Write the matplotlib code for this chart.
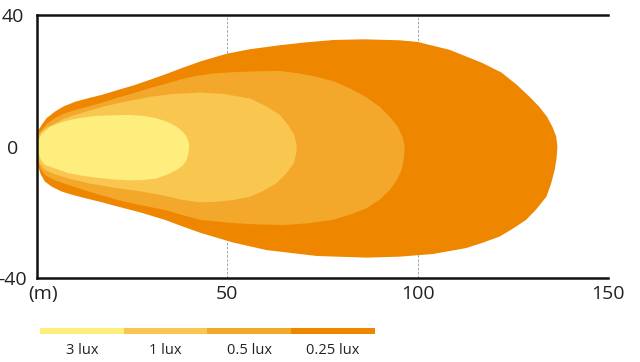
import matplotlib
matplotlib.use("Agg")
import matplotlib.pyplot as plt

plt.rcParams["font.family"] = ["Open Sans", "DejaVu Sans"]

# isolux outlines (distance m, lateral m), traced clockwise from the nose
lux_labels = ["0.25 lux", "0.5 lux", "1 lux", "3 lux"]
lux_colors = ["#ee8600", "#f3a72b", "#f9c74f", "#fdee7e"]

x_025 = [0, 0.4, 1.2, 2.5, 4.7, 7, 10, 13.5, 17, 21, 25.7, 29.7, 33.6, 38.4,
         43, 49.8, 56, 63.8, 70, 78, 86, 95.3, 100, 108.4, 117, 122, 126,
         129.5, 132, 134, 135.4, 136.4, 136.7,
         136.5, 136, 135, 133.8, 131, 128.5, 125, 121.5, 117, 112.7, 104, 95.3,
         86.6, 73.5, 60.3, 51.5, 42.8, 37.5, 33.6, 27, 21.3, 16.5, 12.6, 9,
         6.5, 4, 2.1, 1, 0.3, 0]
y_025 = [3, 5, 6.5, 8.6, 10.6, 12.2, 13.6, 14.7, 15.7, 17.1, 18.7, 20.3, 21.9,
         24, 25.9, 28.2, 29.6, 30.8, 31.6, 32.4, 32.6, 32.3, 31.8, 29.4, 25.4,
         22.5, 18.8, 15, 12, 9, 6, 3, 0,
         -3.5, -7.1, -11.5, -15.3, -19.3, -22.3, -25, -27.4, -29.3, -30.9,
         -32.7, -33.5, -33.8, -33.3, -31.5, -29.2, -26.2, -24, -22.3, -20,
         -18.3, -16.8, -15.7, -14.6, -13.7, -12.3, -10.7, -8.5, -6, -3.5]

x_05 = [0, 0.4, 1.2, 2.5, 4.7, 7, 10, 13.5, 17, 21, 25.7, 29.7, 33.6, 37.5,
        41, 46, 51.5, 58, 63.8, 69, 73.5, 78, 82.2, 86.5, 90, 92.7, 94.8, 96,
        96.6,
        96.4, 95.8, 94.5, 92.7, 90, 86.6, 82, 77.7, 71, 64.6, 58, 51.5, 42.8,
        38, 33.6, 27, 21.3, 15, 8.2, 4.5, 2.1, 0.8, 0.2, 0]
y_05 = [2.5, 4, 5, 6.8, 8.6, 10, 11.1, 12.2, 13.3, 14.8, 16.3, 17.8, 19,
        20.3, 21.3, 22.2, 22.6, 22.9, 23, 22.2, 21.2, 19.8, 17.7, 15, 12.1, 9,
        6, 3, 0,
        -3.5, -7.1, -10.2, -13.2, -16.2, -18.8, -20.8, -22.3, -23.4, -23.9,
        -23.7, -23.3, -22.3, -20.8, -19.3, -17.8, -16.3, -14.2, -11.7, -10.2,
        -8.7, -6.5, -4.5, -2.5]

x_1 = [0, 0.4, 1.2, 2.5, 4.7, 7, 10, 14, 18, 23, 29.7, 35, 42.8, 49, 56,
       60.3, 63.8, 66, 67.6, 68.2,
       68.2, 67.5, 65.5, 63, 59.5, 55.9, 51.5, 47.2, 42.8, 38, 33.6, 27, 21.3,
       14, 8.2, 4.5, 2.1, 0.8, 0.2, 0]
y_1 = [2, 3.2, 4.5, 5.8, 7, 8.4, 9.6, 11, 12.3, 13.6, 15.1, 15.9, 16.4, 16,
       14.6, 12.2, 9.6, 6.5, 3.5, 0.5,
       -1.5, -5, -8.2, -11.1, -13.5, -15.3, -16.3, -16.8, -17, -16.2, -15,
       -13.6, -12.7, -11.3, -9.7, -8.4, -7.1, -5.3, -3.5, -2]

x_3 = [0, 0.3, 1.2, 3.4, 6, 8.7, 12, 15.7, 20, 24.4, 28, 31.4, 34.5, 36.7,
       38.3, 39.3, 39.8, 40,
       39.8, 39.3, 38.3, 36.7, 34.5, 31.4, 28, 24.4, 20, 15.7, 12, 8.2, 6,
       2.1, 1.2, 0.3, 0]
y_3 = [0.5, 1.8, 3.8, 6, 7.2, 8.1, 8.8, 9.3, 9.5, 9.6, 9.3, 8.6, 7.4, 6,
       4.5, 3, 1.5, 0,
       -2, -4.1, -5.8, -7.1, -8.4, -9.7, -10.2, -10.3, -10, -9.5, -8.9,
       -8.1, -7.2, -5.6, -4.4, -2.1, -1]

outlines = [(x_025, y_025), (x_05, y_05), (x_1, y_1), (x_3, y_3)]

x_ticks = [50, 100, 150]
y_ticks = [-40, 0, 40]
legend_order = ["3 lux", "1 lux", "0.5 lux", "0.25 lux"]
legend_colors = ["#fdee7e", "#f9c74f", "#f3a72b", "#ee8600"]

fig = plt.figure(figsize=(6.4, 3.62), dpi=100)
ax = fig.add_axes([0.0578, 0.232, 0.8922, 0.7266])

for (xs, ys), color in zip(outlines, lux_colors):
    ax.fill(xs, ys, color=color, lw=0, zorder=2)

ax.set_xlim(0, 150)
ax.set_ylim(-40, 40)
ax.set_xticks(x_ticks)
ax.set_yticks(y_ticks)
ax.set_yticklabels(["-40", "0", "40"])
ax.tick_params(length=0, labelsize=14, colors="#222222")
ax.tick_params(axis="x", pad=5)
ax.tick_params(axis="y", pad=17.5)
for lab in ax.get_yticklabels():
    lab.set_horizontalalignment("center")
ax.xaxis.grid(True, ls=(0, (3, 2)), color="#999999", lw=0.6, zorder=1)

for side in ["left", "top", "bottom"]:
    ax.spines[side].set_linewidth(1.8)
    ax.spines[side].set_color("#111111")
    ax.spines[side].set_zorder(5)
ax.spines["right"].set_visible(False)

ax.text(-0.016, -0.027, "(m)", transform=ax.transAxes, ha="left", va="top",
        fontsize=14, color="#222222")

# legend strip
lax = fig.add_axes([0.0625, 0.0773, 0.523, 0.0166])
for i, (label, color) in enumerate(zip(legend_order, legend_colors)):
    lax.barh(0, 1, left=i, height=1, color=color, lw=0)
    fig.text(0.0625 + 0.523 * (i + 0.5) / 4, 0.033, label, ha="center",
             va="center", fontsize=10.5, color="#222222")
lax.set_xlim(0, len(legend_order))
lax.set_ylim(-0.5, 0.5)
lax.axis("off")

fig.savefig("out.png", dpi=100)
